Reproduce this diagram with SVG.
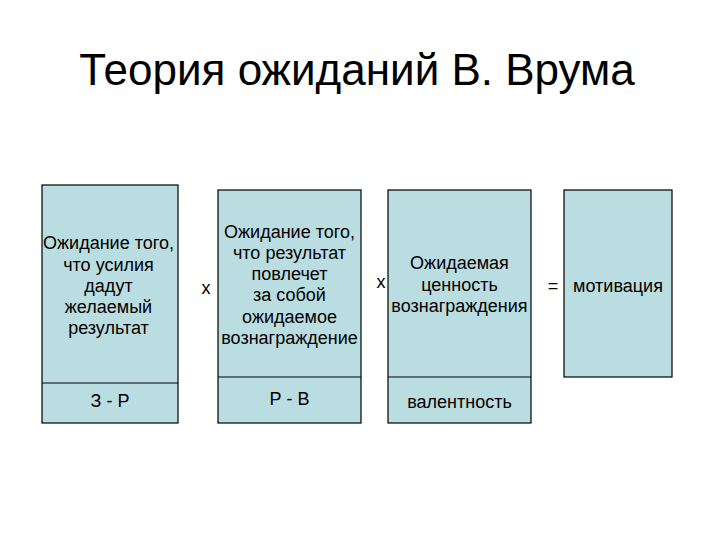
<svg xmlns="http://www.w3.org/2000/svg" width="720" height="540" viewBox="0 0 720 540">
<style>
text{font-family:"Liberation Sans",Arial,sans-serif;fill:#000}
.t{font-size:44px}
.b{font-size:18px;text-anchor:middle}
.box{fill:#badde1;stroke:#000;stroke-width:1.2}
.div{stroke:#000;stroke-width:1.2;fill:none}
</style>
<rect width="720" height="540" fill="#fff"/>
<text class="t" x="357" y="85" text-anchor="middle">Теория ожиданий В. Врума</text>
<g id="node1">
<rect class="box" x="42" y="185" width="136" height="238"/>
<line class="div" x1="42" y1="383" x2="178" y2="383"/>
<text class="b" x="108.5" y="249">Ожидание того,</text>
<text class="b" x="108.5" y="271">что усилия</text>
<text class="b" x="108.5" y="292">дадут</text>
<text class="b" x="108.5" y="313">желаемый</text>
<text class="b" x="108.5" y="334">результат</text>
<text class="b" x="110" y="407">З - Р</text>
</g>
<g id="op1"><text class="b" x="206" y="294">x</text></g>
<g id="node2">
<rect class="box" x="218" y="190" width="143" height="233"/>
<line class="div" x1="218" y1="377" x2="361" y2="377"/>
<text class="b" x="289.5" y="238">Ожидание того,</text>
<text class="b" x="289.5" y="259">что результат</text>
<text class="b" x="289.5" y="280">повлечет</text>
<text class="b" x="289.5" y="301">за собой</text>
<text class="b" x="289.5" y="323">ожидаемое</text>
<text class="b" x="289.5" y="344">вознаграждение</text>
<text class="b" x="289.5" y="405">Р - В</text>
</g>
<g id="op2"><text class="b" x="381" y="288">x</text></g>
<g id="node3">
<rect class="box" x="388" y="190" width="143" height="233"/>
<line class="div" x1="388" y1="377" x2="531" y2="377"/>
<text class="b" x="459.5" y="269">Ожидаемая</text>
<text class="b" x="459.5" y="291">ценность</text>
<text class="b" x="459.5" y="312">вознаграждения</text>
<text class="b" x="459.5" y="408">валентность</text>
</g>
<g id="op3"><text class="b" x="553" y="292">=</text></g>
<g id="node4">
<rect class="box" x="564" y="190" width="108" height="187"/>
<text class="b" x="618" y="292">мотивация</text>
</g>
<g id="connectors"></g>
</svg>
